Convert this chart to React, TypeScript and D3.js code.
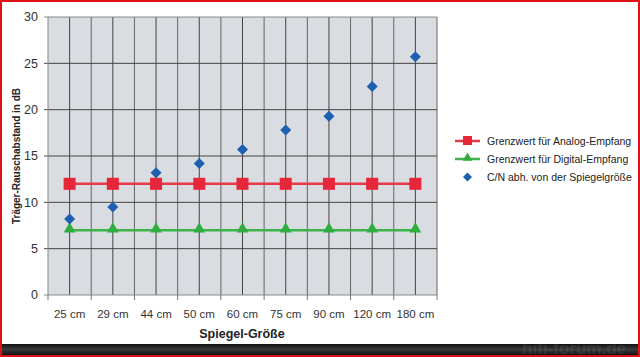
import React from "react";
import * as d3 from "d3";

const categories = ["25 cm", "29 cm", "44 cm", "50 cm", "60 cm", "75 cm", "90 cm", "120 cm", "180 cm"];
const analogLimit = [12, 12, 12, 12, 12, 12, 12, 12, 12];
const digitalLimit = [7, 7, 7, 7, 7, 7, 7, 7, 7];
const cnValues = [8.2, 9.5, 13.2, 14.2, 15.7, 17.8, 19.3, 22.5, 25.7];
const yTicks = [0, 5, 10, 15, 20, 25, 30];
const legendLabels = ["Grenzwert für Analog-Empfang", "Grenzwert für Digital-Empfang", "C/N abh. von der Spiegelgröße"];

const W = 640, H = 357;
const left = 48, right = 437, top = 17, bottom = 295;
const FONT = "'Liberation Sans', Arial, sans-serif";

export default function App() {
  const x = d3.scaleBand<string>().domain(categories).range([left, right]).padding(0);
  const y = d3.scaleLinear().domain([0, 30]).range([bottom, top]);
  const cx = (c: string) => (x(c) as number) + x.bandwidth() / 2;
  const line = d3.line<number>().x((_, i) => cx(categories[i])).y((d) => y(d));
  const tri = d3.symbol().type(d3.symbolTriangle).size(60)() as string;
  const diamond = "M0,-5.5L5.5,0L0,5.5L-5.5,0Z";

  return (
    <svg width={W} height={H} style={{ position: "absolute", left: 0, top: 0, display: "block" }} fontFamily={FONT}>
      <defs>
        <linearGradient id="bar" x1="0" y1="0" x2="0" y2="1">
          <stop offset="0" stopColor="#111" />
          <stop offset="0.5" stopColor="#3a3a3a" />
          <stop offset="1" stopColor="#111" />
        </linearGradient>
      </defs>
      <rect x={0} y={0} width={W} height={H} fill="#fff" />
      <rect x={left} y={top} width={right - left} height={bottom - top} fill="#d9dce0" />
      {categories.map((c) => (
        <g key={c}>
          <line x1={cx(c)} x2={cx(c)} y1={top} y2={bottom} stroke="#444" strokeWidth={1} />
          <line x1={(x(c) as number) + x.bandwidth()} x2={(x(c) as number) + x.bandwidth()} y1={top} y2={bottom} stroke="#666" strokeWidth={1} />
        </g>
      ))}
      {yTicks.map((t) => (
        <line key={t} x1={left - 4} x2={right} y1={y(t)} y2={y(t)} stroke={t === 0 || t === 30 ? "#888" : "#444"} strokeWidth={1} />
      ))}
      <line x1={left} x2={left} y1={top} y2={bottom} stroke="#888" />
      {[left, ...categories.map((c) => (x(c) as number) + x.bandwidth())].map((v, i) => (
        <line key={i} x1={v} x2={v} y1={bottom} y2={bottom + 5} stroke="#777" />
      ))}
      {yTicks.map((t) => (
        <text key={t} x={38} y={y(t)} dy="0.35em" textAnchor="end" fontSize={12.5} fill="#333">{t}</text>
      ))}
      {categories.map((c) => (
        <text key={c} x={cx(c)} y={318} textAnchor="middle" fontSize={11.5} fill="#333">{c}</text>
      ))}
      <text x={242} y={338} textAnchor="middle" fontSize={12.5} fontWeight="bold" fill="#222">Spiegel-Größe</text>
      <text transform={`translate(20,156) rotate(-90)`} textAnchor="middle" fontSize={10} fontWeight="bold" fill="#222">Träger-Rauschabstand in dB</text>

      <path d={line(digitalLimit) as string} fill="none" stroke="#3cb44a" strokeWidth={2.5} />
      {digitalLimit.map((v, i) => (
        <path key={i} d={tri} transform={`translate(${cx(categories[i])},${y(v) - 1})`} fill="#2fae3f" />
      ))}
      <path d={line(analogLimit) as string} fill="none" stroke="#e8394a" strokeWidth={2.5} />
      {analogLimit.map((v, i) => (
        <rect key={i} x={cx(categories[i]) - 6} y={y(v) - 6} width={12} height={12} fill="#e8263a" />
      ))}
      {cnValues.map((v, i) => (
        <path key={i} d={diamond} transform={`translate(${cx(categories[i])},${y(v)})`} fill="#1f5fb0" />
      ))}

      <g fontSize={10.5} fill="#222">
        <line x1={455} x2={480} y1={141} y2={141} stroke="#e8394a" strokeWidth={2.5} />
        <rect x={463} y={136} width={9} height={9} fill="#e8263a" />
        <text x={487} y={141} dy="0.35em">{legendLabels[0]}</text>
        <line x1={455} x2={480} y1={159} y2={159} stroke="#3cb44a" strokeWidth={2.5} />
        <path d={d3.symbol().type(d3.symbolTriangle).size(40)() as string} transform="translate(467.5,158)" fill="#2fae3f" />
        <text x={487} y={159} dy="0.35em">{legendLabels[1]}</text>
        <path d="M0,-4.5L4.5,0L0,4.5L-4.5,0Z" transform="translate(467.5,177)" fill="#1f5fb0" />
        <text x={487} y={177} dy="0.35em">{legendLabels[2]}</text>
      </g>

      <rect x={0} y={344} width={W} height={11} fill="url(#bar)" />
      <text x={626} y={354} textAnchor="end" fontSize={17} fill="#fff" opacity={0.08} fontWeight="bold">hifi-forum.de</text>
      <rect x={1} y={1} width={W - 2} height={H - 2} fill="none" stroke="#e0101a" strokeWidth={2} />
    </svg>
  );
}
